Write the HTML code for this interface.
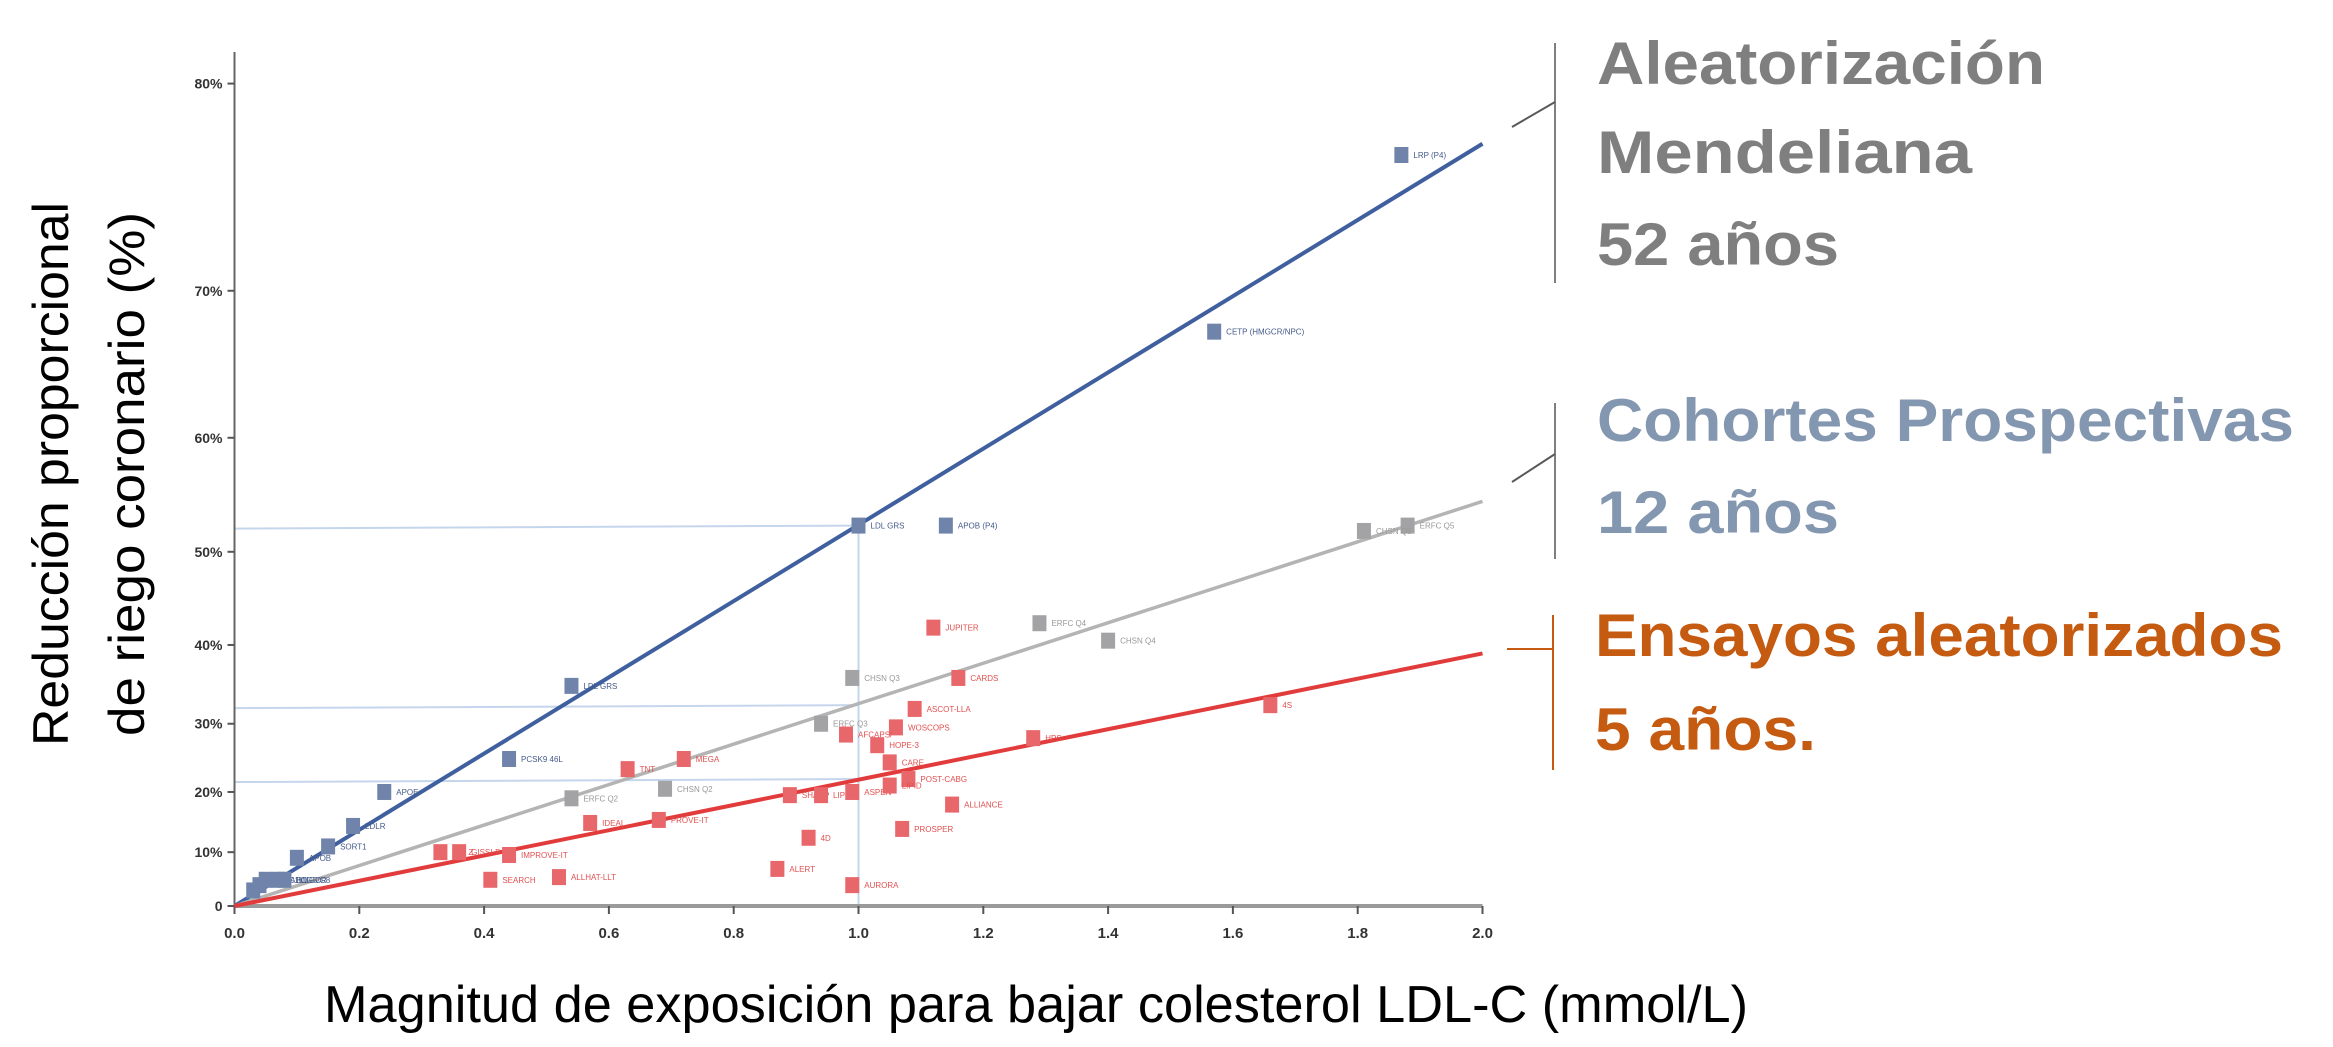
<!DOCTYPE html>
<html><head><meta charset="utf-8">
<style>
html,body{margin:0;padding:0;background:#fff;}
svg{display:block;}
text{font-family:"Liberation Sans",sans-serif;}
</style></head>
<body>
<svg id="chart" width="2333" height="1047" viewBox="0 0 2333 1047" xmlns="http://www.w3.org/2000/svg">
  <g id="guides"></g>
  <g id="axes"></g>
  <g id="lines"></g>
  <g id="points"></g>
  <g transform="translate(68,474) rotate(-90)">
    <text x="0" y="0" text-anchor="middle" font-size="50" fill="#000" textLength="544" lengthAdjust="spacingAndGlyphs">Reducción proporcional</text>
    <text x="0" y="76" text-anchor="middle" font-size="50" fill="#000" textLength="524" lengthAdjust="spacingAndGlyphs">de riego coronario  (%)</text>
  </g>
  <text x="324" y="1022" font-size="52" fill="#000" textLength="1424" lengthAdjust="spacingAndGlyphs">Magnitud de exposición para bajar colesterol LDL-C (mmol/L)</text>

  <g>
    <line x1="1555" y1="43" x2="1555" y2="283" stroke="#7f7f7f" stroke-width="2"/>
    <line x1="1512" y1="127" x2="1555" y2="102" stroke="#595959" stroke-width="2"/>
    <g font-weight="bold" fill="#7f7f7f" font-size="60">
      <text x="1597" y="84" textLength="448" lengthAdjust="spacingAndGlyphs">Aleatorización</text>
      <text x="1597" y="173" textLength="375" lengthAdjust="spacingAndGlyphs">Mendeliana</text>
      <text x="1597" y="265" textLength="242" lengthAdjust="spacingAndGlyphs">52 años</text>
    </g>
  </g>
  <g>
    <line x1="1555" y1="403" x2="1555" y2="559" stroke="#7f7f7f" stroke-width="2"/>
    <line x1="1512" y1="482" x2="1555" y2="454" stroke="#595959" stroke-width="2"/>
    <g font-weight="bold" fill="#8497b0" font-size="60">
      <text x="1597" y="441" textLength="697" lengthAdjust="spacingAndGlyphs">Cohortes Prospectivas</text>
      <text x="1597" y="533" textLength="242" lengthAdjust="spacingAndGlyphs">12 años</text>
    </g>
  </g>
  <g>
    <line x1="1553" y1="615" x2="1553" y2="770" stroke="#c55a11" stroke-width="2"/>
    <line x1="1507" y1="649" x2="1553" y2="649" stroke="#c55a11" stroke-width="2"/>
    <g font-weight="bold" fill="#c55a11" font-size="60">
      <text x="1595" y="656" textLength="688" lengthAdjust="spacingAndGlyphs">Ensayos aleatorizados</text>
      <text x="1595" y="750" textLength="221" lengthAdjust="spacingAndGlyphs">5 años.</text>
    </g>
  </g>
</svg>
<script>
// ---- data ----
const xTicks = [0.0,0.2,0.4,0.6,0.8,1.0,1.2,1.4,1.6,1.8,2.0];
const yTicks = [0,10,20,30,40,50,60,70,80];
const yTickLabels = ["0","10%","20%","30%","40%","50%","60%","70%","80%"];
const lineEnds = [77.5, 54.7, 39.0]; // value at x=2.0 for mendelian, cohorts, trials
const blueX = [1.87,1.57,1.00,1.14,0.54,0.44,0.24,0.19,0.15,0.10,0.07,0.05,0.04,0.08,0.03];
const blueY = [77,67.5,52.5,52.5,35,25,20,14.5,11,9,5,5,4,5,3];
const blueLabels = ["LRP (P4)","CETP (HMGCR/NPC)","LDL GRS","APOB (P4)","LDL GRS","PCSK9 46L","APOE","LDLR","SORT1","APOB","ABCG5/G8","NPC1L1","","HMGCR",""];
const grayX = [1.88,1.81,1.29,1.40,0.99,0.94,0.69,0.54];
const grayY = [52.5,52,42.5,40.5,36,30,20.5,19];
const grayLabels = ["ERFC Q5","CHSN Q5","ERFC Q4","CHSN Q4","CHSN Q3","ERFC Q3","CHSN Q2","ERFC Q2"];
const redX = [1.12,1.16,1.09,1.06,0.98,1.03,1.05,1.08,1.66,1.28,0.63,0.72,0.89,0.94,0.99,1.05,1.15,1.07,0.92,0.57,0.68,0.87,0.99,0.33,0.36,0.44,0.41,0.52];
const redY = [42,36,32,29.5,28.5,27,24.5,22,32.5,28,23.5,25,19.5,19.5,20,21,18,14,12.5,15,15.5,7,4,10,10,9.5,5,5.5];
const redLabels = ["JUPITER","CARDS","ASCOT-LLA","WOSCOPS","AFCAPS/","HOPE-3","CARE","POST-CABG","4S","HPS","TNT","MEGA","SHARP","LIPS","ASPEN","LIPID","ALLIANCE","PROSPER","4D","IDEAL","PROVE-IT","ALERT","AURORA","A to Z","GISSI-P","IMPROVE-IT","SEARCH","ALLHAT-LLT"];

// ---- scales ----
const X0=234.5, XS=624, Y0=906, YS=511;
const sx = v => X0 + XS*v;
const sy = r => Y0 - YS*(-Math.log(1 - r/100));
const NS="http://www.w3.org/2000/svg";
function mk(tag, attrs, parent){const e=document.createElementNS(NS,tag);for(const k in attrs)e.setAttribute(k,attrs[k]);parent.appendChild(e);return e;}

const axes=document.getElementById('axes');
const yAxis=mk('line',{x1:X0,y1:52,x2:X0,y2:Y0,stroke:'#666','stroke-width':2},axes);


const xAxis=mk('line',{x1:X0,y1:Y0,x2:sx(2.0),y2:Y0,stroke:'#9a9a9a','stroke-width':4},axes);


yTicks.forEach((t,i)=>{
  const y=sy(t);
  mk('line',{x1:X0-7,y1:y,x2:X0,y2:y,stroke:'#555','stroke-width':2},axes);
  const tx=mk('text',{x:X0-12,y:y+5,'text-anchor':'end','font-size':14,'font-weight':'bold',fill:'#333'},axes);
  tx.textContent=yTickLabels[i];
  
  
});
xTicks.forEach(t=>{
  const x=sx(t);
  mk('line',{x1:x,y1:Y0,x2:x,y2:Y0+8,stroke:'#555','stroke-width':2},axes);
  const tx=mk('text',{x:x,y:Y0+32,'text-anchor':'middle','font-size':15,'font-weight':'bold',fill:'#333'},axes);
  tx.textContent=t.toFixed(1);
  
  
});

// guides
const guides=document.getElementById('guides');
[52.5,32.5,22].forEach(v=>{
  const g=mk('line',{x1:X0,y1:sy(v)+3,x2:sx(1.0),y2:sy(v),stroke:'#c5d6ec','stroke-width':2},guides);
  
  
});
const vg=mk('line',{x1:sx(1.0),y1:sy(52.5),x2:sx(1.0),y2:Y0,stroke:'#c5d6ec','stroke-width':2},guides);



// trend lines
const lines=document.getElementById('lines');
const lineColors=['#3f5f9f','#b4b4b4','#e23b3b'];
const lineNames=['mendelian-line','cohort-line','trial-line'];
const lineW=[4,3.5,4];
lineEnds.forEach((v,i)=>{
  const l=mk('line',{x1:sx(0),y1:sy(0),x2:sx(2.0),y2:sy(v),stroke:lineColors[i],'stroke-width':lineW[i]},lines);
  
  
});

// points
const pts=document.getElementById('points');
function series(xs,ys,labels,fill,txtFill,name){
  xs.forEach((xv,i)=>{
    const cx=sx(xv), cy=sy(ys[i]);
    const r=mk('rect',{x:cx-7,y:cy-8,width:14,height:16,fill:fill},pts);
    
    
    if(labels[i]){
      const t=mk('text',{x:cx+12,y:cy+3,'font-size':8,fill:txtFill},pts);
      t.textContent=labels[i];
      
      
    }
  });
}
series(grayX,grayY,grayLabels,'#a3a3a6','#999','cohort');
series(redX,redY,redLabels,'#e8676b','#e05050','trial');
series(blueX,blueY,blueLabels,'#7084ab','#445a8a','mendelian');
</script>
</body></html>
